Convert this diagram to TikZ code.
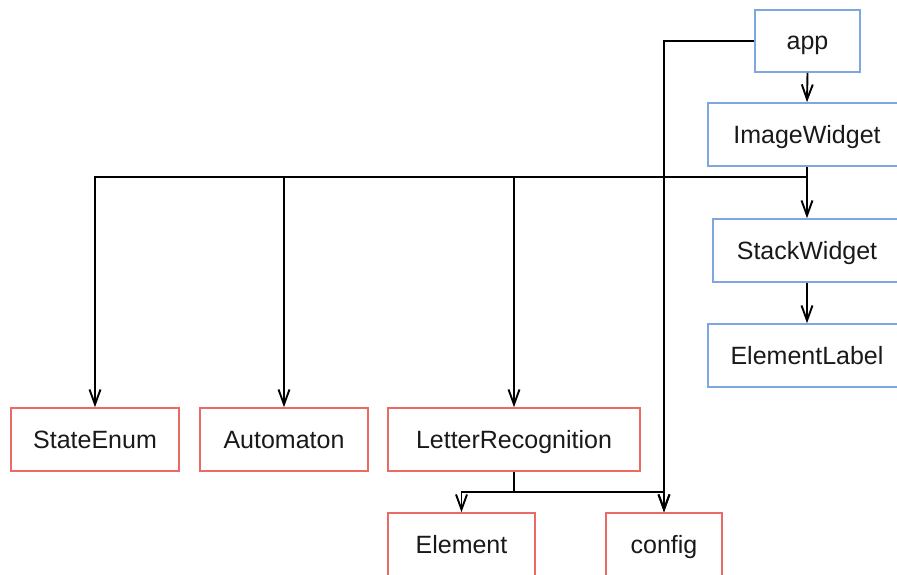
\documentclass[tikz,border=0pt]{standalone}
\usepackage{fontspec}
\setmainfont{Liberation Sans}
\usetikzlibrary{arrows.meta}

\definecolor{blueedge}{HTML}{7EA6E0}
\definecolor{rededge}{HTML}{EA6B66}

\tikzset{
  box/.style={draw, line width=1.6pt, rectangle, inner sep=0pt,
    minimum height=63pt, font=\fontsize{25}{30}\selectfont, text=black!90,
    text height=17.9pt, text depth=0pt},
  bluebox/.style={box, draw=blueedge},
  redbox/.style={box, draw=rededge},
  link/.style={line width=1.9pt, draw=black},
  arr/.style={link, -{Straight Barb[length=15pt,width=11pt,line width=1.9pt]}},
}

\begin{document}
\begin{tikzpicture}[x=1pt, y=-1pt]
  \useasboundingbox (0,0) rectangle (897,574);
  \clip (0,0) rectangle (897,574);

  % module boxes
  \node[bluebox, minimum width=105pt, minimum height=62pt] (app) at (807.5,41) {app};
  \node[bluebox, minimum width=198pt] (iw)   at (807,134.5) {ImageWidget};
  \node[bluebox, minimum width=188pt] (sw)   at (807,250.5) {StackWidget};
  \node[bluebox, minimum width=198pt] (elab) at (807,355.5) {ElementLabel};

  \node[redbox, minimum width=168pt] (se)  at (95,439.5)  {StateEnum};
  \node[redbox, minimum width=168pt] (au)  at (284,439.5) {Automaton};
  \node[redbox, minimum width=252pt] (lr)  at (514,439.5) {LetterRecognition};
  \node[redbox, minimum width=147pt] (el)  at (461.5,544.5) {Element};
  \node[redbox, minimum width=116pt] (cfg) at (664,544.5) {config};

  % junction points of the shared branches
  \coordinate (bus) at (807,177);
  \coordinate (lb)  at (514,492);

  % app dependencies
  \draw[arr] (app.south) -- (iw.north);
  \draw[arr] (app.west) -| (cfg.north);

  % ImageWidget dependencies
  \draw[link] (iw.south) -- (bus);
  \draw[arr] (bus) -- (sw.north);
  \draw[arr] (bus) -| (se.north);
  \draw[arr] (bus) -| (au.north);
  \draw[arr] (bus) -| (lr.north);

  % StackWidget dependency
  \draw[arr] (sw.south) -- (elab.north);

  % LetterRecognition dependencies
  \draw[link] (lr.south) -- (lb);
  \draw[arr] (lb) -| (el.north);
  \draw[arr] (lb) -| (cfg.north);
\end{tikzpicture}
\end{document}
